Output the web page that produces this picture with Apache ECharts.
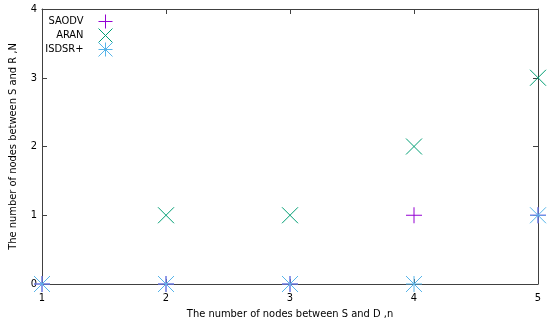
<!DOCTYPE html>
<html><head><meta charset="utf-8">
<script src="https://cdn.jsdelivr.net/npm/echarts@6/dist/echarts.min.js"></script>
<style>html,body{margin:0;padding:0;background:#fff}#c{width:550px;height:329px}</style>
</head><body><div id="c"></div>
<script>
const xCategories = [1, 2, 3, 4, 5];
const saodv = [0, 0, 0, 1, 1];
const aran = [0, 1, 1, 2, 3];
const isdsr = [0, 0, 0, 0, 1];
const seriesNames = ['SAODV', 'ARAN', 'ISDSR+'];
const colors = ['#9400d3', '#009e73', '#56b4e9'];
const yTicks = [0, 1, 2, 3, 4];

const PLUS = 'path://M8,0L8,16M0,8L16,8';
const CROSS = 'path://M0,0L16,16M16,0L0,16';
const STAR = 'path://M8,0L8,16M0,8L16,8M0,0L16,16M16,0L0,16';
const symbols = [PLUS, CROSS, STAR];
const dataSets = [saodv, aran, isdsr];
const font = 'DejaVu Sans Condensed';
const axisColor = '#404040';

const chart = echarts.init(document.getElementById('c'));
const series = seriesNames.map((n, i) => ({
  name: n, type: 'scatter', clip: false,
  symbol: symbols[i], symbolSize: 16,
  data: xCategories.map((x, j) => [x, dataSets[i][j]]),
  itemStyle: {color: 'rgba(0,0,0,0)', borderColor: colors[i], borderWidth: 1, opacity: 1},
  emphasis: {disabled: true}
}));
const legends = seriesNames.map((n, i) => ({
  data: [{name: n, icon: symbols[i],
          itemStyle: {color: 'rgba(0,0,0,0)', borderColor: colors[i], borderWidth: 1}}],
  right: 437, top: 14 + i * 14, align: 'right', orient: 'vertical',
  itemWidth: 16, itemHeight: 14, padding: 0,
  textStyle: {fontFamily: font, fontSize: 11, color: '#000', padding: [0, 9, 0, 0]},
  selectedMode: false
}));
const mkX = (pos, show) => ({
  type: 'value', position: pos, min: 1, max: 5, interval: 1,
  name: show ? 'The number of nodes between S and D ,n' : '',
  nameLocation: 'middle', nameGap: 22,
  nameTextStyle: {fontFamily: font, fontSize: 11, color: '#000'},
  axisLine: {show: true, onZero: false, lineStyle: {color: axisColor, width: 1}},
  axisTick: {show: true, inside: true, length: 5, lineStyle: {color: axisColor}},
  axisLabel: {show: show, margin: 9, fontFamily: font, fontSize: 11, color: '#000'},
  splitLine: {show: false}
});
const mkY = (pos, show) => ({
  type: 'value', position: pos, min: yTicks[0], max: yTicks[yTicks.length - 1], interval: 1,
  name: show ? 'The number of nodes between S and R ,N' : '',
  nameLocation: 'middle', nameGap: 23,
  nameTextStyle: {fontFamily: font, fontSize: 11, color: '#000'},
  axisLine: {show: true, onZero: false, lineStyle: {color: axisColor, width: 1}},
  axisTick: {show: true, inside: true, length: 5, lineStyle: {color: axisColor}},
  axisLabel: {show: show, margin: 5, fontFamily: font, fontSize: 11, color: '#000'},
  splitLine: {show: false}
});
chart.setOption({
  animation: false,
  grid: {left: 41, right: 12, top: 9, bottom: 45},
  xAxis: [mkX('bottom', true), mkX('top', false)],
  yAxis: [mkY('left', true), mkY('right', false)],
  legend: legends,
  series: series
});
</script></body></html>
